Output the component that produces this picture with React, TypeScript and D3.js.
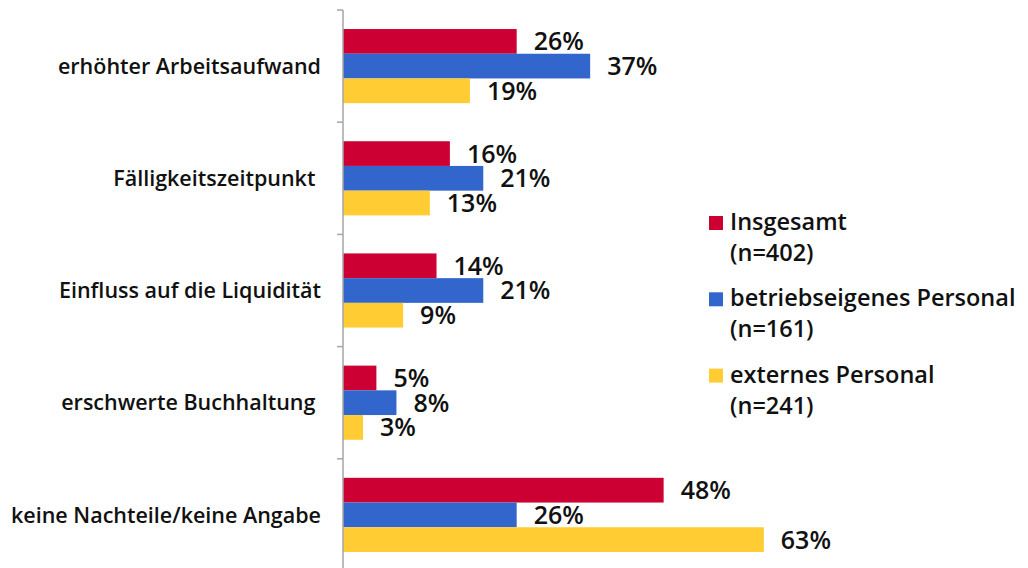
import React from "react";
import * as d3 from "d3";

const categories = [
  "erhöhter Arbeitsaufwand",
  "Fälligkeitszeitpunkt ",
  "Einfluss auf die Liquidität",
  "erschwerte Buchhaltung ",
  "keine Nachteile/keine Angabe",
];
const seriesNames = ["Insgesamt", "betriebseigenes Personal", "externes Personal"];
const seriesN = ["(n=402)", "(n=161)", "(n=241)"];
const insgesamt = [26, 16, 14, 5, 48];
const betriebseigen = [37, 21, 21, 8, 26];
const extern = [19, 13, 9, 3, 63];
const colors = ["#CC0033", "#3366CC", "#FFCC33"];

const font = "'Open Sans', 'Noto Sans', sans-serif";

const App = () => {
  const width = 1028;
  const height = 568;
  const x0 = 343;
  const values = [insgesamt, betriebseigen, extern];

  const x = d3.scaleLinear().domain([0, 100]).range([x0, x0 + 668]);
  const y = d3.scaleBand<string>().domain(categories).range([10, 10 + 5 * 112.2]);
  const inner = d3
    .scaleBand<string>()
    .domain(seriesNames)
    .range([0, y.bandwidth()])
    .paddingOuter(0.77);

  const tickYs = categories.map((c) => y(c) as number).concat([y.range()[1]]);

  return (
    <svg
      width={width}
      height={height}
      style={{ position: "absolute", left: 0, top: 0, background: "#fff" }}
      fontFamily={font}
    >
      {/* bars */}
      {categories.map((c, i) => (
        <g key={c} transform={`translate(0,${y(c)})`}>
          {seriesNames.map((s, j) => {
            const v = values[j][i];
            const by = inner(s) as number;
            return (
              <g key={s}>
                <rect
                  x={x(0)}
                  y={by}
                  width={x(v) - x(0)}
                  height={inner.bandwidth()}
                  fill={colors[j]}
                />
                <text
                  x={x(v) + 17}
                  y={by + inner.bandwidth() / 2}
                  dy="0.36em"
                  fontSize={25}
                  fontWeight={600}
                  fill="#111"
                >
                  {v}%
                </text>
              </g>
            );
          })}
          <text
            x={321}
            y={y.bandwidth() / 2}
            dy="0.36em"
            textAnchor="end"
            fontSize={21.5}
            fontWeight={600}
            fill="#111"
            style={{ whiteSpace: "pre" }}
          >
            {c}
          </text>
        </g>
      ))}

      {/* axis */}
      <line x1={x0} x2={x0} y1={10} y2={height} stroke="#a6a6a6" strokeWidth={1.5} />
      {tickYs.map((t, i) => (
        <line key={i} x1={x0 - 6} x2={x0} y1={t} y2={t} stroke="#a6a6a6" strokeWidth={1.5} />
      ))}

      {/* legend */}
      {seriesNames.map((s, j) => {
        const ly = 230 + j * 76.3;
        return (
          <g key={s}>
            <rect x={709} y={ly - 14} width={14} height={14} fill={colors[j]} />
            <text x={730} y={ly} fontSize={23.5} fontWeight={600} fill="#111">
              {s}
            </text>
            <text x={730} y={ly + 31} fontSize={23.5} fontWeight={600} fill="#111">
              {seriesN[j]}
            </text>
          </g>
        );
      })}
    </svg>
  );
};

export default App;
